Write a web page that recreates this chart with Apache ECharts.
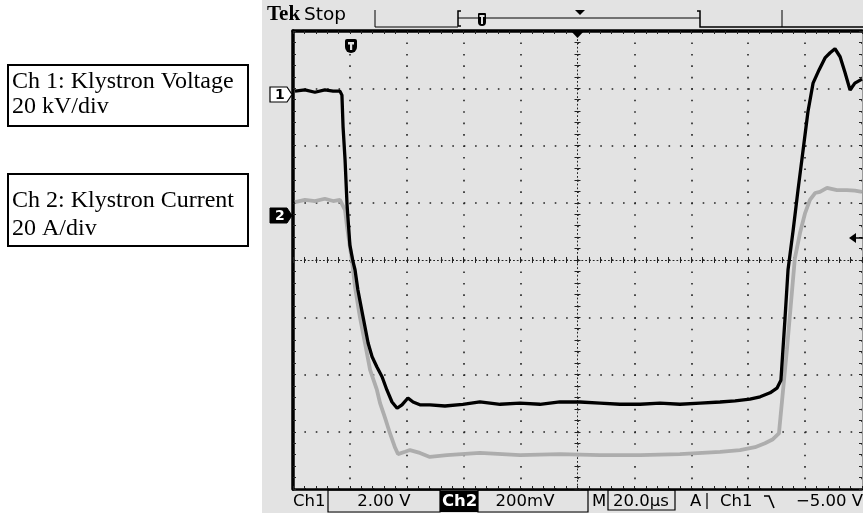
<!DOCTYPE html>
<html><head><meta charset="utf-8">
<script src="https://cdn.jsdelivr.net/npm/echarts@6/dist/echarts.min.js"></script>
<style>html,body{margin:0;padding:0;background:#fff}#c{width:863px;height:513px}</style>
</head><body><div id="c"></div>
<script>
// time in microseconds (20 us/div, trigger at 0), amplitude in screen divisions
const ch1Time = [-99.3,-95.8,-92.3,-88.8,-85.9,-83.5,-82.8,-82.4,-81.7,-81.0,-80.0,-78.9,-78.2,-77.2,-75.4,-73.6,-72.2,-70.5,-68.7,-67.0,-65.2,-63.4,-61.7,-59.6,-57.8,-55.4,-51.9,-46.6,-40.3,-34.3,-27.2,-20.2,-13.2,-6.2,0.9,7.9,14.9,22.0,29.0,36.0,43.1,50.1,55.4,60.6,64.2,67.7,70.1,71.5,72.9,74.0,75.8,77.5,79.3,81.0,82.8,84.9,87.0,88.8,90.5,92.3,94.0,95.8,97.5,100];
const ch1Div = [2.95,2.97,2.93,2.97,2.95,2.95,2.88,2.32,1.75,0.96,0.26,-0.03,-0.17,-0.52,-0.99,-1.45,-1.69,-1.87,-2.04,-2.27,-2.48,-2.59,-2.53,-2.41,-2.48,-2.53,-2.53,-2.55,-2.52,-2.48,-2.52,-2.50,-2.52,-2.48,-2.48,-2.50,-2.52,-2.52,-2.50,-2.52,-2.50,-2.48,-2.46,-2.43,-2.39,-2.32,-2.24,-2.10,-1.05,-0.17,0.52,1.22,1.92,2.59,3.09,3.32,3.53,3.62,3.69,3.55,3.28,2.97,3.09,3.16];
const ch2Time = [-99.3,-95.8,-92.3,-88.8,-85.9,-83.5,-82.8,-81.7,-81.0,-80.0,-79.3,-78.2,-76.5,-74.7,-72.9,-70.5,-69.4,-67.7,-65.9,-64.1,-63.1,-60.6,-58.9,-55.4,-51.9,-45.9,-34.3,-20.2,-6.2,7.9,22.0,36.0,50.1,57.1,62.4,65.9,68.7,70.8,73.6,76.4,78.2,80.0,81.7,83.5,85.2,87.7,91.2,94.7,97.5,100];
const ch2Div = [1.01,1.05,1.03,1.07,1.03,1.05,1.05,0.87,0.58,0.23,0.00,-0.47,-0.99,-1.45,-1.92,-2.27,-2.50,-2.75,-3.03,-3.28,-3.39,-3.35,-3.32,-3.37,-3.44,-3.41,-3.37,-3.41,-3.39,-3.41,-3.41,-3.39,-3.35,-3.32,-3.27,-3.20,-3.13,-3.03,-1.57,0.03,0.47,0.82,1.05,1.17,1.19,1.26,1.22,1.22,1.21,1.19];

const timeRange = [-100, 100], timeStep = 20;
const divRange = [-4, 4], divStep = 1;

const legendLines1 = ['Ch 1: Klystron Voltage', '20 kV/div'];
const legendLines2 = ['Ch 2: Klystron Current', '20 A/div'];
const statusTexts = {ch1: 'Ch1', v1: '2.00 V', ch2: 'Ch2', v2: '200mV', m: 'M', tb: '20.0\u00b5s', a: 'A', trig: 'Ch1', lvl: '\u22125.00 V'};

const chart = echarts.init(document.getElementById('c'), null, {renderer: 'canvas'});
const GL = 293, GT = 31, GW = 569, GH = 458;
const DOT = '#222';
const BG = '#e3e3e3';

function xAx(extra) {
  return Object.assign({
    type: 'value', min: timeRange[0], max: timeRange[1], interval: timeStep,
    axisLabel: {show: false}, splitLine: {show: false},
    axisTick: {show: true, inside: true, length: 3, lineStyle: {color: DOT, width: 1}},
    minorTick: {show: true, splitNumber: 5, length: 3, lineStyle: {color: DOT, width: 1}}
  }, extra);
}
function yAx(extra) {
  return Object.assign({
    type: 'value', min: divRange[0], max: divRange[1], interval: divStep,
    axisLabel: {show: false}, splitLine: {show: false},
    axisTick: {show: true, inside: true, length: 3, lineStyle: {color: DOT, width: 1}},
    minorTick: {show: true, splitNumber: 5, length: 3, lineStyle: {color: DOT, width: 1}}
  }, extra);
}

const sFont = '16.5px "DejaVu Sans"';
function st(x, y, text, extra) {
  return {type: 'text', x: x, y: y, z: 20,
    style: Object.assign({text: text, font: sFont, fill: '#000', verticalAlign: 'middle', align: 'left'}, extra || {})};
}
const serif = '24px "Liberation Serif"';
function lt(x, y, text) {
  return {type: 'text', z: 6, x: x, y: y, style: {text: text, font: serif, fill: '#000', verticalAlign: 'middle', align: 'left'}};
}

const option = {
  animation: false,
  backgroundColor: '#ffffff',
  grid: {left: GL, top: GT, width: GW, height: GH, containLabel: false},
  xAxis: [
    xAx({position: 'bottom', axisLine: {onZero: false, lineStyle: {color: '#000', width: 2.5}},
      splitLine: {show: true, lineStyle: {color: DOT, width: 1.6, type: [1.6, 9.85]}}}),
    xAx({position: 'top', axisLine: {onZero: false, lineStyle: {color: '#000', width: 3.5}}}),
    xAx({position: 'bottom', offset: -GH / 2, axisLine: {onZero: false, lineStyle: {color: DOT, width: 1, type: [1, 2.8]}}}),
    xAx({position: 'top', offset: -GH / 2, axisLine: {show: false, onZero: false}})
  ],
  yAxis: [
    yAx({position: 'left', axisLine: {onZero: false, lineStyle: {color: '#000', width: 3.5}},
      splitLine: {show: true, lineStyle: {color: DOT, width: 1.6, type: [1.6, 9.78]}}}),
    yAx({position: 'right', axisLine: {onZero: false, lineStyle: {color: '#9a9a9a', width: 1}}}),
    yAx({position: 'left', offset: -GW / 2, axisLine: {onZero: false, lineStyle: {color: DOT, width: 1, type: [1, 2.8]}}}),
    yAx({position: 'right', offset: -GW / 2, axisLine: {show: false, onZero: false}})
  ],
  series: [
    {name: 'Ch2', type: 'line', xAxisIndex: 0, yAxisIndex: 0, symbol: 'none', z: 3,
      lineStyle: {color: '#adadad', width: 3.8}, data: ch2Time.map((t, i) => [t, ch2Div[i]])},
    {name: 'Ch1', type: 'line', xAxisIndex: 0, yAxisIndex: 0, symbol: 'none', z: 4,
      lineStyle: {color: '#000', width: 3.3}, data: ch1Time.map((t, i) => [t, ch1Div[i]])}
  ],
  graphic: [
    // scope screen background
    {type: 'rect', z: -10, silent: true, shape: {x: 262, y: 0, width: 601, height: 513}, style: {fill: BG}},
    // left annotation boxes
    {type: 'rect', z: 5, shape: {x: 8, y: 65, width: 240, height: 61}, style: {fill: '#fff', stroke: '#000', lineWidth: 2}},
    lt(12, 82, legendLines1[0]),
    lt(12, 107, legendLines1[1]),
    {type: 'rect', z: 5, shape: {x: 8, y: 174, width: 240, height: 72}, style: {fill: '#fff', stroke: '#000', lineWidth: 2}},
    lt(12, 201, legendLines2[0]),
    lt(12, 229, legendLines2[1]),
    // header
    {type: 'text', z: 20, x: 267, y: 15, style: {text: 'Tek', font: 'bold 21px "Liberation Serif"', fill: '#000', verticalAlign: 'middle', align: 'left'}},
    {type: 'text', z: 20, x: 304, y: 15, style: {text: 'Stop', font: '18.5px "DejaVu Sans"', fill: '#000', verticalAlign: 'middle', align: 'left'}},
    {type: 'polyline', z: 20, shape: {points: [[375, 10], [375, 27], [458, 27]]}, style: {stroke: '#000', lineWidth: 1, fill: null}},
    {type: 'polyline', z: 20, shape: {points: [[461, 11], [458, 11], [458, 26], [461, 26]]}, style: {stroke: '#000', lineWidth: 1.5, fill: null}},
    {type: 'line', z: 20, shape: {x1: 458, y1: 18, x2: 700, y2: 18}, style: {stroke: '#000', lineWidth: 1}},
    {type: 'polyline', z: 20, shape: {points: [[697, 11], [700, 11], [700, 27], [863, 27]]}, style: {stroke: '#000', lineWidth: 1.5, fill: null}},
    {type: 'line', z: 20, shape: {x1: 782, y1: 10, x2: 782, y2: 27}, style: {stroke: '#000', lineWidth: 1}},
    {type: 'rect', z: 21, shape: {x: 478, y: 13, width: 8, height: 13, r: [1, 1, 4, 4]}, style: {fill: '#000'}},
    {type: 'rect', z: 22, shape: {x: 481, y: 16, width: 2, height: 8}, style: {fill: BG}},
    {type: 'rect', z: 22, shape: {x: 479.5, y: 15, width: 5, height: 2}, style: {fill: BG}},
    {type: 'polygon', z: 20, shape: {points: [[575, 10], [585, 10], [580, 15]]}, style: {fill: '#000'}},
    // trigger position marker at top centre
    {type: 'polygon', z: 20, shape: {points: [[570, 30], [585, 30], [577.5, 38]]}, style: {fill: '#000'}},
    // T shield marker
    {type: 'rect', z: 20, shape: {x: 345, y: 39, width: 12, height: 14, r: [2, 2, 6, 6]}, style: {fill: '#000'}},
    {type: 'rect', z: 21, shape: {x: 348, y: 42, width: 6, height: 2.5}, style: {fill: BG}},
    {type: 'rect', z: 21, shape: {x: 350, y: 42, width: 2.2, height: 8}, style: {fill: BG}},
    // channel ground markers
    {type: 'polygon', z: 20, shape: {points: [[270, 87], [287, 87], [292, 94.5], [287, 102], [270, 102]]}, style: {fill: '#fff', stroke: '#000', lineWidth: 1.2}},
    {type: 'text', z: 21, x: 275, y: 95, style: {text: '1', font: 'bold 14px "DejaVu Sans"', fill: '#000', verticalAlign: 'middle', align: 'left'}},
    {type: 'polygon', z: 20, shape: {points: [[270, 208], [287, 208], [292, 215.5], [287, 223], [270, 223]]}, style: {fill: '#000', stroke: '#000', lineWidth: 1}},
    {type: 'text', z: 21, x: 275, y: 216, style: {text: '2', font: 'bold 14px "DejaVu Sans"', fill: '#fff', verticalAlign: 'middle', align: 'left'}},
    // trigger level arrow
    {type: 'polygon', z: 20, shape: {points: [[849, 238], [856, 233], [856, 243]]}, style: {fill: '#000'}},
    {type: 'line', z: 20, shape: {x1: 855, y1: 238, x2: 863, y2: 238}, style: {stroke: '#000', lineWidth: 1.5}},
    // status bar
    st(293, 502, statusTexts.ch1),
    {type: 'rect', z: 19, shape: {x: 328, y: 490, width: 112, height: 22}, style: {fill: null, stroke: '#000', lineWidth: 1.2}},
    st(384, 502, statusTexts.v1, {align: 'center'}),
    {type: 'rect', z: 19, shape: {x: 440, y: 491, width: 38, height: 21}, style: {fill: '#000'}},
    st(442, 502, statusTexts.ch2, {font: 'bold 16.5px "DejaVu Sans"', fill: '#fff'}),
    {type: 'rect', z: 19, shape: {x: 478, y: 490, width: 110, height: 22}, style: {fill: null, stroke: '#000', lineWidth: 1.2}},
    st(525, 502, statusTexts.v2, {align: 'center'}),
    st(592, 502, statusTexts.m),
    {type: 'rect', z: 19, shape: {x: 608, y: 490, width: 67, height: 20}, style: {fill: null, stroke: '#000', lineWidth: 1.2}},
    st(641, 502, statusTexts.tb, {align: 'center'}),
    st(690, 502, statusTexts.a),
    {type: 'line', z: 20, shape: {x1: 707, y1: 493, x2: 707, y2: 509}, style: {stroke: '#000', lineWidth: 1.2}},
    st(720, 502, statusTexts.trig),
    {type: 'polyline', z: 20, shape: {points: [[764, 496], [769, 496], [774, 508]]}, style: {stroke: '#000', lineWidth: 1.6, fill: null}},
    st(863, 502, statusTexts.lvl, {align: 'right'})
  ]
};
chart.setOption(option);
</script>
</body></html>
